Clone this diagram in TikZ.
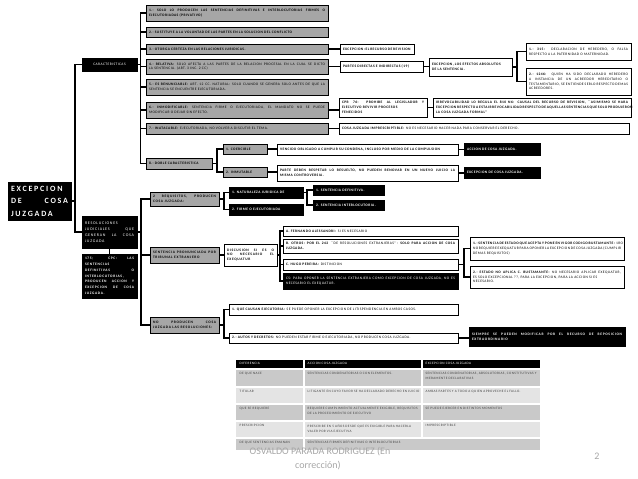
\documentclass[tikz,border=0pt]{standalone}
\usepackage{fontspec}
\setmainfont{Carlito}
\newfontfamily\bxfont{Carlito}[LetterSpace=12]
\newfontfamily\spcfont{Carlito}[LetterSpace=18]
\newfontfamily\ttlfont{Carlito}[LetterSpace=22]
\usetikzlibrary{positioning,calc}
\definecolor{boxgray}{HTML}{A6A6A6}
\definecolor{rowdark}{HTML}{C9C9C9}
\definecolor{rowlight}{HTML}{E4E4E4}
\definecolor{footgray}{HTML}{A6A6A6}
\definecolor{celltext}{HTML}{3F3F3F}
\hyphenpenalty=10000
\exhyphenpenalty=10000

\begin{document}
\begin{tikzpicture}[x=1pt,y=-1pt,
  box/.style={anchor=north west, draw=black, line width=0.9pt, outer sep=0pt, inner xsep=3pt, inner ysep=1pt, align=justify, font=\bxfont\fontsize{3.6}{4.8}\selectfont},
  gbox/.style={box, fill=boxgray},
  wbox/.style={box, fill=white},
  bbox/.style={box, fill=black, text=white},
  cell/.style={anchor=north west, inner sep=1.5pt, align=left, text=celltext, font=\bxfont\fontsize{3.4}{4.8}\selectfont},
  foot/.style={text=footgray, inner sep=0pt, font=\fontsize{10}{12}\selectfont},
  con/.style={line width=1.3pt}]
\useasboundingbox (0,0) rectangle (638,479);

\node[bbox, text width=57pt, minimum height=38pt, align=left, font=\ttlfont\bfseries\fontsize{8}{12.5}\selectfont] (main) at (8,182) {EXCEPCION\\DE\hfill COSA\\JUZGADA};
\node[bbox, text width=49pt, minimum height=13pt, align=center] (car) at (82,58) {CARACTERISTICAS};
\node[bbox, text width=49pt, minimum height=32pt, font=\spcfont\fontsize{4}{6}\selectfont] (res) at (82,216) {RESOLUCIONES JUDICIALES QUE GENERAN LA COSA JUZGADA};
\node[bbox, text width=49pt, minimum height=44pt, font=\spcfont\bfseries\fontsize{3.6}{5.8}\selectfont] (art) at (82,254) {175; CPC: LAS\linebreak SENTENCIAS\\ DEFINITIVAS O\linebreak INTERLOCUTORIAS,\\ PRODUCEN ACCION Y\linebreak EXCEPCION DE COSA\linebreak JUZGADA.};

\node[gbox, text width=176pt, minimum height=16pt] (c1) at (146,5) {\textbf{1.- SOLO LO PRODUCEN LAS SENTENCIAS DEFINITIVAS E INTERLOCUTORIAS FIRMES O\linebreak EJECUTORIADAS (PRIVATIVO)}};
\node[gbox, text width=176pt, minimum height=10pt] (c2) at (146,27) {\textbf{2.- SUSTITUYE A LA VOLUNTAD DE LAS PARTES EN LA SOLUCION DEL CONFLICTO}};
\node[gbox, text width=176pt, minimum height=10pt] (c3) at (146,44) {\textbf{3.- OTORGA CERTEZA EN LAS RELACIONES JURIDICAS.}};
\node[gbox, text width=176pt, minimum height=15pt] (c4) at (146,59) {\textbf{4.- RELATIVA:} SOLO AFECTA A LAS PARTES DE LA RELACION PROCESAL EN LA CUAL SE DICTO\linebreak LA SENTENCIA. (ART. 3 INC. 2 CC)};
\node[gbox, text width=176pt, minimum height=16pt] (c5) at (146,79) {\textbf{5.- ES RENUNCIABLE:} ART. 12 CC. NATURAL: SOLO CUANDO SE GENERA SOLO ANTES DE QUE LA\linebreak SENTENCIA SE ENCUENTRE EJECUTORIADA.};
\node[gbox, text width=176pt, minimum height=16pt] (c6) at (146,102) {\textbf{6.- INMODIFICABLE:} SENTENCIA FIRME O EJECUTORIADA, EL MANDATO NO SE PUEDE\linebreak MODIFICAR O DEJAR SIN EFECTO.};
\node[gbox, text width=176pt, minimum height=11pt] (c7) at (146,123) {\textbf{7.- INATACABLE:} EJECUTORIADA, NO VOLVER A DISCUTIR EL TEMA.};
\node[gbox, text width=60pt, minimum height=11pt] (c8) at (146,158) {\textbf{8.- DOBLE CARACTERISTICA}};

\node[wbox, text width=68pt, minimum height=10pt] (ex3) at (340,44) {\textbf{EXCEPCION: EL RECURSO DE REVISION}};
\node[wbox, text width=77pt, minimum height=11pt] (pa4) at (340,61) {\textbf{PARTES DIRECTAS E INDIRECTAS (19)}};
\node[wbox, text width=77pt, minimum height=18pt] (ef4) at (429,58) {\textbf{EXCEPCION, LOS EFECTOS ABSOLUTOS\\ DE LA SENTENCIA.}};
\node[wbox, text width=99pt, minimum height=17pt] (h1) at (526,43) {\textbf{1.- 315:} DECLARACION DE HEREDERO, O FALSA\linebreak RESPECTO A LA PATERNIDAD O MATERNIDAD.};
\node[wbox, text width=99pt, minimum height=27pt] (h2) at (526,68) {\textbf{2.- 1246:} QUIEN HA SIDO DECLARADO HEREDERO A INSTANCIA DE UN ACREEDOR HEREDITARIO O TESTAMENTARIO, SE ENTIENDE SERLO RESPECTO DEMAS ACREEDORES.};
\node[wbox, text width=82pt, minimum height=19pt] (cpr) at (339,98) {\textbf{CPR 76: PROHIBE AL LEGISLADOR Y\linebreak EJECUTIVO REVIVIR PROCESOS\\ FENECIDOS}};
\node[wbox, text width=192pt, minimum height=19pt] (irr) at (433,98) {\textbf{IRREVOCABILIDAD LO REGULA EL 810 N6: CAUSAL DEL RECURSO DE REVISION, ``ASIMISMO SE HARA EXCEPCION RESPECTO A ESTA IRREVOCABILIDAD RESPECTO DE AQUELLAS SENTENCIAS QUE SOLO PRODUJERON LA COSA JUZGADA FORMAL''}};
\node[wbox, text width=284pt, minimum height=11pt] (imp) at (339,123) {\textbf{COSA JUZGADA IMPRESCRIPTIBLE:} NO ES NECESARIO HACER NADA PARA CONSERVAR EL DERECHO.};

\node[gbox, text width=38pt, minimum height=10pt] (coe) at (223,144) {\textbf{1. COERCIBLE}};
\node[gbox, text width=38pt, minimum height=10pt] (inm) at (223,167) {\textbf{2. INMUTABLE}};
\node[wbox, text width=175pt, minimum height=11pt] (ven) at (277,144) {\textbf{VENCIDO OBLIGADO A CUMPLIR SU CONDENA, INCLUSO POR MEDIO DE LA COMPULSION}};
\node[wbox, text width=175pt, minimum height=16pt] (par) at (277,165) {\textbf{PARTE DEBEN RESPETAR LO RESUELTO, NO PUEDEN RENOVAR EN UN NUEVO JUICIO LA\linebreak MISMA CONTROVERSIA.}};
\node[bbox, text width=70pt, minimum height=12pt] (acc) at (464,143) {\textbf{ACCION DE COSA JUZGADA.}};
\node[bbox, text width=70pt, minimum height=11pt] (exc) at (464,167) {\textbf{EXCEPCION DE COSA JUZGADA.}};

\node[gbox, text width=63pt, minimum height=14pt, font=\spcfont\fontsize{3.6}{4.8}\selectfont] (r1) at (150,192) {\textbf{2 REQUISITOS, PRODUCEN\linebreak COSA JUZGADA:}};
\node[gbox, text width=63pt, minimum height=16pt, font=\spcfont\fontsize{3.6}{4.8}\selectfont] (r2) at (150,247) {\textbf{SENTENCIA PRONUNCIADA POR TRIBUNAL EXTRANJERO}};
\node[gbox, text width=63pt, minimum height=16pt, font=\spcfont\fontsize{3.6}{5.2}\selectfont] (r3) at (150,317) {\textbf{NO PRODUCEN COSA\linebreak JUZGADA LAS RESOLUCIONES:}};
\node[bbox, text width=68pt, minimum height=11pt] (n1) at (229,187) {\textbf{1. NATURALEZA JURIDICA DE}};
\node[bbox, text width=68pt, minimum height=11pt] (n2) at (229,204) {\textbf{2. FIRME O EJECUTORIADA}};
\node[bbox, text width=65pt, minimum height=10pt] (s1) at (313,185) {\textbf{1. SENTENCIA DEFINITIVA.}};
\node[bbox, text width=65pt, minimum height=10pt] (s2) at (313,200) {\textbf{2. SENTENCIA INTERLOCUTORIA.}};
\node[wbox, text width=47pt, minimum height=22pt, font=\spcfont\fontsize{3.6}{4.8}\selectfont] (dis) at (224,244) {\textbf{DISCUSION SI ES O NO NECESARIO EL EXEQUATUR}};
\node[wbox, text width=169pt, minimum height=10pt] (fa) at (283,226) {\textbf{A. FERNANDO ALESSANDRI:} SI ES NECESARIO};
\node[wbox, text width=169pt, minimum height=14pt] (ot) at (283,239) {\textbf{B. OTROS: POR EL 242} ``DE RESOLUCIONES EXTRANJERAS'': \textbf{SOLO PARA ACCION DE COSA JUZGADA.}};
\node[wbox, text width=169pt, minimum height=11pt] (hp) at (283,259) {\textbf{C. HUGO PEREIRA:} DISTINCION};
\node[bbox, text width=169pt, minimum height=16pt] (cs) at (283,273) {CS: PARA OPONER LA SENTENCIA EXTRANJERA COMO EXCEPCION DE COSA JUZGADA, NO ES NECESARIO EL EXEQUATUR.};
\node[wbox, text width=148pt, minimum height=23pt] (b1) at (470,237) {\textbf{1.- SENTENCIA DE ESTADO QUE ACEPTA Y PONE EN VIGOR CODIGO BUSTAMANTE:} 1RO NO REQUIERE EXEQUATUR PARA OPONER LA EXCEPCION DE COSA JUZGADA (CUMPLIR DEMAS REQUISITOS)};
\node[wbox, text width=148pt, minimum height=22pt] (b2) at (470,266) {\textbf{2.- ESTADO NO APLICA C. BUSTAMANTE:} NO NECESARIO APLICAR EXEQUATUR,\linebreak ES SOLO EXCEPCIONAL ??, PARA LA EXCEPCION, PARA LA ACCION SI ES\\ NECESARIO.};
\node[wbox, text width=223pt, minimum height=11pt] (q1) at (229,304) {\textbf{1. QUE CAUSAN EJECUTORIA:} SE PUEDE OPONER LA EXCEPCION DE LITISPENDENCIA EN AMBOS CASOS.};
\node[wbox, text width=223pt, minimum height=10pt] (q2) at (229,333) {\textbf{2.- AUTOS Y DECRETOS:} NO PUEDEN ESTAR FIRME O EJECUTORIADA, NO PRODUCEN COSA JUZGADA.};
\node[bbox, text width=150pt, minimum height=19pt, font=\spcfont\fontsize{3.6}{4.8}\selectfont] (sie) at (469,327) {\textbf{SIEMPRE SE PUEDEN MODIFICAR POR EL RECURSO DE REPOSICION EXTRAORDINARIO}};

\draw[con] (main.east) -- ++(4,0) coordinate (k0);
\foreach \n in {car,res} \draw[con] (k0) |- (\n.west);
\draw[con] (res.south) -- (art.north);
\draw[con] (car.east) -- ++(3.5,0) coordinate (k1);
\foreach \i in {1,...,8} \draw[con] (k1) |- (c\i.west);
\draw[con] (c3.east) -- (c3.east -| ex3.west);
\draw[con] (c4.east) -- (c4.east -| pa4.west);
\draw[con] (pa4.east) -- (pa4.east -| ef4.west);
\draw[con] (ef4.east) -- ++(5,0) coordinate (k2);
\foreach \n in {h1,h2} \draw[con] (k2) |- (\n.west);
\draw[con] (c6.east) -- (c6.east -| cpr.west);
\draw[con] (cpr.east) -- (cpr.east -| irr.west);
\draw[con] (c7.east) -- (c7.east -| imp.west);
\draw[con] (c8.east) -- ++(5,0) coordinate (k3);
\foreach \n in {coe,inm} \draw[con] (k3) |- (\n.west);
\draw[con] (coe.east) -- (coe.east -| ven.west);
\draw[con] (inm.east) -- (inm.east -| par.west);
\draw[con] (ven.east) -- (ven.east -| acc.west);
\draw[con] (par.east) -- (par.east -| exc.west);
\draw[con] (res.east) -- ++(4,0) coordinate (k4);
\foreach \n in {r1,r2,r3} \draw[con] (k4) |- (\n.west);
\draw[con] (r1.east) -- ++(5,0) coordinate (k5);
\foreach \n in {n1,n2} \draw[con] (k5) |- (\n.west);
\draw[con] (n1.east) -- ++(4,0) coordinate (k6);
\foreach \n in {s1,s2} \draw[con] (k6) |- (\n.west);
\draw[con] (r2.east) -- (r2.east -| dis.west);
\draw[con] (dis.east) -- ++(3,0) coordinate (k7);
\foreach \n in {fa,ot,hp,cs} \draw[con] (k7) |- (\n.west);
\draw[con] (hp.east) -- ++(6,0) coordinate (k8);
\foreach \n in {b1,b2} \draw[con] (k8) |- (\n.west);
\draw[con] (r3.east) -- ++(5,0) coordinate (k9);
\foreach \n in {q1,q2} \draw[con] (k9) |- (\n.west);
\draw[con] (q2.east) -- (q2.east -| sie.west);

\fill[black] (236,360) rectangle (540,369);
\foreach \y/\h/\c in {369/18/rowdark,387/17/rowlight,404/17/rowdark,421/17/rowlight,438/12/rowdark}
  \fill[\c] (236,\y) rectangle (540,\y+\h);
\foreach \y in {369,387,404,421,438} \draw[white, line width=1.2pt] (236,\y) -- (540,\y);
\draw[white, line width=1.2pt] (304,360) -- (304,450);
\draw[white, line width=1.2pt] (422,360) -- (422,438);
\node[cell, text=white, text width=62pt] (t0a) at (238,361) {DIFERENCIA};
\node[cell, text=white, text width=112pt] (t0b) at (306,361) {ACCION COSA JUZGADA};
\node[cell, text=white, text width=112pt] (t0c) at (424,361) {EXCEPCION COSA JUZGADA};
\node[cell, text width=62pt] (t1a) at (238,371) {DE QUE NACE};
\node[cell, text width=112pt] (t1b) at (306,371) {SENTENCIAS CONDENATORIAS O CON ELEMENTOS.};
\node[cell, text width=112pt] (t1c) at (424,371) {SENTENCIAS CONDENATORIAS, ABSOLUTORIAS, CONSTITUTIVAS Y MERAMENTE DECLARATIVAS};
\node[cell, text width=62pt] (t2a) at (238,389) {TITULAR};
\node[cell, text width=112pt] (t2b) at (306,389) {LITIGANTE EN CUYO FAVOR SE HA DECLARADO DERECHO EN JUICIO};
\node[cell, text width=112pt] (t2c) at (424,389) {AMBAS PARTES Y A TODO A QUIEN APROVECHE EL FALLO.};
\node[cell, text width=62pt] (t3a) at (238,406) {QUE SE REQUIERE};
\node[cell, text width=112pt] (t3b) at (306,406) {REQUIERE CUMPLIMIENTO ACTUALMENTE EXIGIBLE, REQUISITOS DE LA PROCEDIMIENTO DE EJECUTIVO};
\node[cell, text width=112pt] (t3c) at (424,406) {SE PUEDE EJERCER EN DISTINTOS MOMENTOS};
\node[cell, text width=62pt] (t4a) at (238,423) {PRESCRIPCION};
\node[cell, text width=112pt] (t4b) at (306,423) {PRESCRIBE EN 5 AÑOS DESDE QUE ES EXIGIBLE PARA HACERLA VALER POR VIA EJECUTIVA};
\node[cell, text width=112pt] (t4c) at (424,423) {IMPRESCRIPTIBLE};
\node[cell, text width=62pt] (t5a) at (238,440) {DE QUE SENTENCIAS EMANAN};
\node[cell, text width=230pt] (t5b) at (306,440) {SENTENCIAS FIRMES DEFINITIVAS O INTERLOCUTORIAS};

\node[foot] (au1) at (320,452) {OSVALDO PARADA RODRIGUEZ (En};
\node[foot] (au2) at (318,466) {corrección)};
\node[foot] (pg) at (597,456) {2};
\end{tikzpicture}
\end{document}
